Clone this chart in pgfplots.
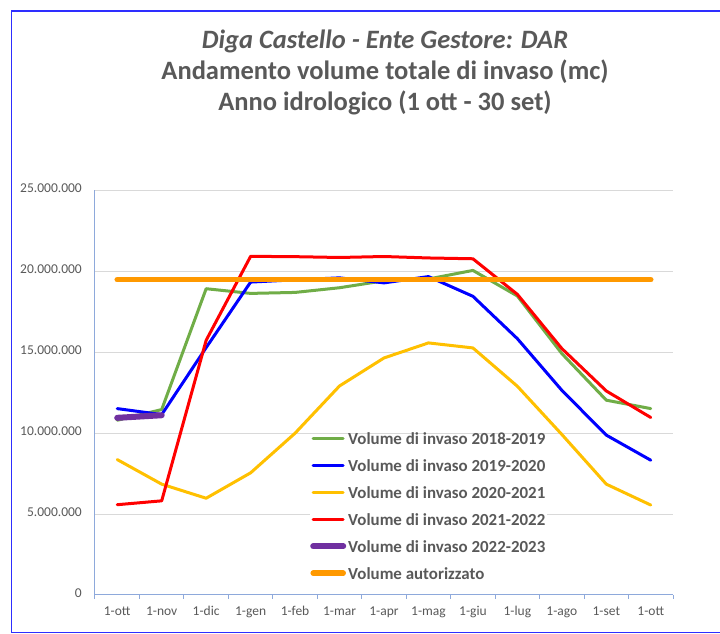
\documentclass[border=0pt]{standalone}
\usepackage{fontspec}
\setmainfont{Carlito}
\usepackage{pgfplots}
\pgfplotsset{compat=1.18}
\definecolor{cgreen}{HTML}{70AD47}
\definecolor{cblue}{HTML}{0000FF}
\definecolor{cyellow}{HTML}{FFC000}
\definecolor{cred}{HTML}{FF0000}
\definecolor{cpurple}{HTML}{7030A0}
\definecolor{corange}{HTML}{FF9900}
\definecolor{caxis}{HTML}{8EA9DB}
\definecolor{cgrid}{HTML}{D9D9D9}
\definecolor{ctext}{HTML}{595959}
\definecolor{cframe}{HTML}{2E2EFF}
\begin{document}
\begin{tikzpicture}[x=1pt,y=1pt]
\path[use as bounding box, fill=white] (0,0) rectangle (720,634);
\draw[cframe, line width=1.8pt] (720,623) -- (11.5,623) -- (11.5,1.5) -- (720,1.5);
\node[anchor=base, text=ctext, font=\bfseries\itshape\fontsize{26.5}{30}\selectfont] at (385,585) {Diga Castello - Ente Gestore: DAR};
\node[anchor=base, text=ctext, font=\bfseries\fontsize{26.5}{30}\selectfont] at (385,554) {Andamento volume totale di invaso (mc)};
\node[anchor=base, text=ctext, font=\bfseries\fontsize{26.5}{30}\selectfont] at (385,523) {Anno idrologico (1 ott - 30 set)};
\begin{axis}[
  at={(95pt,39pt)}, anchor=south west,
  width=578pt, height=404.5pt, scale only axis,
  xmin=-0.5, xmax=12.5, ymin=0, ymax=25000000,
  axis lines*=left,
  axis line style={caxis, line width=1pt},
  xtick={0,...,12},
  xticklabels={1-ott,1-nov,1-dic,1-gen,1-feb,1-mar,1-apr,1-mag,1-giu,1-lug,1-ago,1-set,1-ott},
  minor xtick={-0.5,0.5,...,12.5},
  major tick length=0pt,
  minor tick length=4pt,
  tick align=outside,
  minor tick style={caxis, line width=1pt},
  scaled y ticks=false,
  ytick={0,5000000,10000000,15000000,20000000,25000000},
  yticklabels={0,5.000.000,10.000.000,15.000.000,20.000.000,25.000.000},
  ymajorgrids,
  major grid style={cgrid, line width=1pt},
  ticklabel style={text=ctext, font=\fontsize{13.5}{15}\selectfont, inner sep=0pt},
  yticklabel style={anchor=mid east, xshift=-13pt},
  xticklabel style={anchor=base, yshift=-21pt},
  clip=false,
  legend cell align=left,
  legend style={at={(0.372,0.3955)}, anchor=north west, draw=none, fill=white,
    inner sep=0pt, row sep=15pt,
    font=\bfseries\fontsize{16.9}{20}\selectfont, text=ctext,
    nodes={inner xsep=2pt, inner ysep=0pt, text height=9pt, text depth=3pt}},
  legend image code/.code={\draw[#1] (0pt,3pt) -- (30pt,3pt);},
  every axis plot/.append style={line join=round, line cap=round},
]
\addplot[cgreen, line width=3pt] coordinates {
(0,10800000) (1,11460000) (2,18930000) (3,18640000) (4,18700000) (5,18990000) (6,19420000) (7,19530000) (8,20060000) (9,18480000) (10,14920000) (11,12040000) (12,11520000)};
\addlegendentry{Volume di invaso 2018-2019}
\addplot[cblue, line width=3pt] coordinates {
(0,11520000) (1,11150000) (2,15290000) (3,19340000) (4,19480000) (5,19600000) (6,19290000) (7,19680000) (8,18460000) (9,15840000) (10,12650000) (11,9880000) (12,8330000)};
\addlegendentry{Volume di invaso 2019-2020}
\addplot[cyellow, line width=3pt] coordinates {
(0,8370000) (1,6850000) (2,5980000) (3,7550000) (4,10000000) (5,12920000) (6,14650000) (7,15580000) (8,15270000) (9,12900000) (10,9920000) (11,6850000) (12,5560000)};
\addlegendentry{Volume di invaso 2020-2021}
\addplot[cred, line width=3pt] coordinates {
(0,5580000) (1,5820000) (2,15740000) (3,20930000) (4,20910000) (5,20860000) (6,20920000) (7,20830000) (8,20780000) (9,18580000) (10,15230000) (11,12610000) (12,10970000)};
\addlegendentry{Volume di invaso 2021-2022}
\addplot[cpurple, line width=6pt] coordinates {
(0,10950000) (1,11110000)};
\addlegendentry{Volume di invaso 2022-2023}
\addplot[corange, line width=5.5pt] coordinates {
(0,19490000) (1,19490000) (2,19490000) (3,19490000) (4,19490000) (5,19490000) (6,19490000) (7,19490000) (8,19490000) (9,19490000) (10,19490000) (11,19490000) (12,19490000)};
\addlegendentry{Volume autorizzato}
\end{axis}
\end{tikzpicture}
\end{document}
